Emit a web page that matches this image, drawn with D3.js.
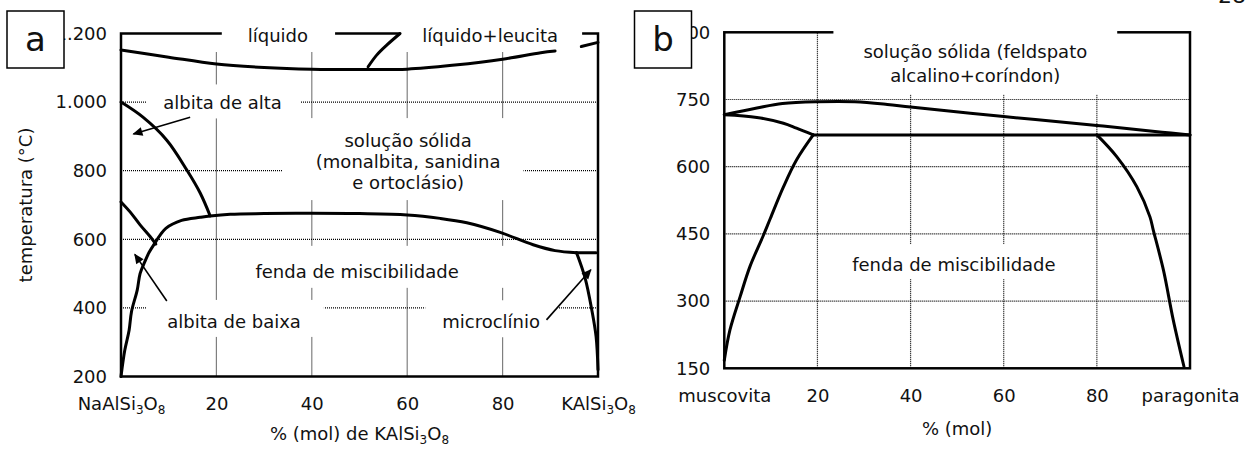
<!DOCTYPE html>
<html>
<head>
<meta charset="utf-8">
<script src="https://cdn.jsdelivr.net/npm/d3@7"></script>
<style>
  body { margin: 0; background: #fff; }
  svg { display: block; font-family: "DejaVu Sans", Verdana, sans-serif; }
</style>
</head>
<body>
<svg id="chart" width="1247" height="449"></svg>
<script>
// ---------- panel a : NaAlSi3O8 - KAlSi3O8 ----------
const xTicksA = [0, 20, 40, 60, 80, 100];
const xTickLabelsA = ["NaAlSi_3O_8", "20", "40", "60", "80", "KAlSi_3O_8"];
const yTicksA = [200, 400, 600, 800, 1000, 1200];
const yTickLabelsA = ["200", "400", "600", "800", "1.000", "1.200"];
const xGridA = [20, 40, 60, 80];
const yGridA = [400, 600, 800, 1000];

// curves as [% mol KAlSi3O8, temperature °C]
const liquidusA = [[0, 1152], [10, 1131], [20, 1111], [30, 1101], [40, 1096], [50, 1095],
  [60, 1096], [70, 1108], [80, 1125], [88, 1144], [91, 1149]];
const liquidusEndA = [[96.5, 1162], [100, 1174]];
const leuciteA = [[58.5, 1200], [55.7, 1166], [53.6, 1137], [51.8, 1103]];
const highAlbiteA = [[0, 1000], [4.6, 956], [9.6, 889], [13.8, 802], [16.6, 735], [18.7, 668]];
const lowAlbiteTopA = [[0, 709], [1.9, 680], [4, 642], [6.1, 608], [7.3, 586]];
const solvusA = [[0, 200], [0.8, 277], [1.7, 335], [2.2, 389], [3.4, 452], [4, 500], [5, 535],
  [5.9, 562], [7.1, 589], [8.2, 612], [9.4, 632], [12.7, 655], [16.6, 664], [18.7, 668],
  [22.9, 673], [30, 675], [40, 676], [50, 675], [60, 671], [66.9, 661], [72.5, 648],
  [79.5, 620], [86.4, 584], [91, 567], [95.5, 561]];
const microShelfA = [[95.5, 561], [99.6, 561]];
const microclineA = [[95.5, 561], [97.3, 487], [98.7, 394], [99.6, 316], [100, 220]];

const labelsA = [
  { lines: ["líquido"], x: 32.9, t: 1193 },
  { lines: ["líquido+leucita"], x: 77.4, t: 1193 },
  { lines: ["albita de alta"], x: 21.3, t: 997 },
  { lines: ["solução sólida", "(monalbita, sanidina", "e ortoclásio)"], x: 60.2, t: 826 },
  { lines: ["fenda de miscibilidade"], x: 49.5, t: 506 },
  { lines: ["albita de baixa"], x: 23.7, t: 360 },
  { lines: ["microclínio"], x: 77.6, t: 359 }
];
const arrowsA = [
  { from: [14.5, 956], to: [2.6, 907] },
  { from: [9.6, 420], to: [2.9, 556] },
  { from: [89.2, 365], to: [98.5, 511] }
];

// ---------- panel b : muscovita - paragonita ----------
const xTicksB = [0, 20, 40, 60, 80, 100];
const xTickLabelsB = ["muscovita", "20", "40", "60", "80", "paragonita"];
const yTicksB = [150, 300, 450, 600, 750, 900];
const yTickLabelsB = ["150", "300", "450", "600", "750", "900"];
const xGridB = [20, 40, 60, 80];
const yGridB = [300, 450, 600, 750];

const upperB = [[0, 716], [7, 731], [12.5, 741], [20, 745], [28, 745], [35, 739], [40, 733],
  [60, 712], [80, 692], [94, 677], [100, 671]];
const lowerB = [[0, 716], [7, 710], [12.7, 697], [15.5, 686], [19.1, 671]];
const shelfB = [[19.1, 671], [100, 671]];
const leftB = [[0, 168], [1.2, 235], [3.4, 310], [5.5, 377], [8.4, 447], [9.9, 485],
  [12.7, 555], [15.5, 615], [19.1, 671]];
const rightB = [[80, 671], [84.3, 622], [88.6, 555], [91.4, 488], [92.1, 459], [94.3, 369],
  [96.4, 258], [98.7, 154]];

const labelsB = [
  { lines: ["solução sólida (feldspato", "alcalino+coríndon)"], x: 53.9, t: 831 },
  { lines: ["fenda de miscibilidade"], x: 49.3, t: 381 }
];

// white boxes behind labels (px padding around text box: left, right, top, bottom)
const padsA = [[26, 27, 6, 5], [22, 24, 6, 4], [17, 19, 8, 5], [33, 23, 12, 7],
  [15, 59, 15, 6], [21, 23, 11, 5], [17, 18, 11, 5]];
const padsB = [[30, 30, 20, 9], [13, 15, 10, 4]];

const svg = d3.select("#chart");

svg.append("defs").append("marker")
  .attr("id", "arrow")
  .attr("viewBox", "0 0 10 10")
  .attr("refX", 9).attr("refY", 5)
  .attr("markerWidth", 12).attr("markerHeight", 10)
  .attr("markerUnits", "userSpaceOnUse")
  .attr("orient", "auto")
  .append("path").attr("d", "M0,0.5L10,5L0,9.5Z").attr("fill", "#000");

// write a formula like NaAlSi_3O_8 with real subscripts
function setChem(text, str) {
  const parts = str.split(/_(\d)/);
  text.text(null);
  let sub = false;
  parts.forEach((s, i) => {
    if (!s) return;
    const ts = text.append("tspan").text(s);
    if (i % 2 === 1) {
      ts.attr("font-size", 12).attr("dy", 4);
      sub = true;
    } else if (sub) {
      ts.attr("dy", -4);
      sub = false;
    }
  });
}

function drawPanel(p) {
  const x = d3.scaleLinear().domain([0, 100]).range(p.xRange);
  const y = d3.scaleLinear().domain(p.yDomain).range(p.yRange);
  const g = svg.append("g");

  const gridG = g.append("g").attr("stroke", "#000").attr("stroke-width", 1.2)
    .attr("stroke-dasharray", "1,1");
  gridG.selectAll("line.v").data(p.xGrid).join("line").attr("class", "v")
    .attr("x1", d => x(d)).attr("x2", d => x(d))
    .attr("y1", y(p.yDomain[0])).attr("y2", y(p.gridTop));
  gridG.selectAll("line.h").data(p.yGrid).join("line").attr("class", "h")
    .attr("x1", x(0)).attr("x2", x(100))
    .attr("y1", d => y(d)).attr("y2", d => y(d));

  g.append("rect")
    .attr("x", x(0)).attr("y", y(p.yDomain[1]))
    .attr("width", x(100) - x(0)).attr("height", y(p.yDomain[0]) - y(p.yDomain[1]))
    .attr("fill", "none").attr("stroke", "#000").attr("stroke-width", 2.5);

  const maskG = g.append("g");
  const curveG = g.append("g");
  const labelG = g.append("g");

  p.labels.forEach((L, i) => {
    const t = labelG.append("text")
      .attr("text-anchor", "middle")
      .attr("font-size", 18)
      .attr("fill", "#111");
    const n = L.lines.length;
    L.lines.forEach((s, j) => {
      t.append("tspan")
        .attr("x", x(L.x))
        .attr("y", y(L.t) + (j - (n - 1) / 2) * p.lineGap)
        .attr("dy", "0.35em")
        .text(s);
    });
    const bb = t.node().getBBox();
    const pad = p.pads[i];
    maskG.append("rect")
      .attr("x", bb.x - pad[0]).attr("y", bb.y - pad[2])
      .attr("width", bb.width + pad[0] + pad[1])
      .attr("height", bb.height + pad[2] + pad[3])
      .attr("fill", "#fff");
  });

  const line = d3.line()
    .x(d => x(d[0])).y(d => y(d[1]))
    .curve(d3.curveCatmullRom.alpha(0.5));

  curveG.selectAll("path").data(p.curves).join("path")
    .attr("d", line)
    .attr("fill", "none")
    .attr("stroke", "#000")
    .attr("stroke-width", 3)
    .attr("stroke-linejoin", "round")
    .attr("stroke-linecap", "round");

  curveG.selectAll("line.arrow").data(p.arrows).join("line").attr("class", "arrow")
    .attr("x1", d => x(d.from[0])).attr("y1", d => y(d.from[1]))
    .attr("x2", d => x(d.to[0])).attr("y2", d => y(d.to[1]))
    .attr("stroke", "#000").attr("stroke-width", 1.6)
    .attr("marker-end", "url(#arrow)");

  const ya = g.append("g")
    .attr("transform", `translate(${x(0)},0)`)
    .call(d3.axisLeft(y).tickValues(p.yTicks)
      .tickFormat((d, i) => p.yTickLabels[i]).tickSize(0).tickPadding(14));
  ya.select(".domain").remove();
  ya.attr("font-size", 18).attr("font-family", null);
  ya.selectAll("text").attr("fill", "#111");

  const xa = g.append("g")
    .attr("transform", `translate(0,${y(p.yDomain[0])})`)
    .call(d3.axisBottom(x).tickValues(p.xTicks).tickSize(0).tickPadding(21));
  xa.select(".domain").remove();
  xa.attr("font-size", 18).attr("font-family", null);
  xa.selectAll("text").attr("fill", "#111")
    .each(function (d, i) { setChem(d3.select(this), p.xTickLabels[i]); });

  const title = g.append("text")
    .attr("x", (x(0) + x(100)) / 2).attr("y", p.titleY)
    .attr("dy", "0.35em")
    .attr("text-anchor", "middle")
    .attr("font-size", 18)
    .attr("fill", "#111");
  setChem(title, p.xTitle);

  if (p.yTitle) {
    g.append("text")
      .attr("transform", `translate(26,${(y(p.yDomain[0]) + y(p.yDomain[1])) / 2}) rotate(-90)`)
      .attr("dy", "0.35em")
      .attr("text-anchor", "middle")
      .attr("font-size", 18)
      .attr("fill", "#111")
      .text(p.yTitle);
  }
}

drawPanel({
  xRange: [121, 598], yDomain: [200, 1200], yRange: [376.5, 33.5], gridTop: 1146,
  xTicks: xTicksA, xTickLabels: xTickLabelsA, yTicks: yTicksA, yTickLabels: yTickLabelsA,
  xGrid: xGridA, yGrid: yGridA,
  curves: [liquidusA, liquidusEndA, leuciteA, highAlbiteA, lowAlbiteTopA, solvusA, microShelfA, microclineA],
  labels: labelsA, pads: padsA, lineGap: 21, arrows: arrowsA,
  xTitle: "% (mol) de KAlSi_3O_8", titleY: 434, yTitle: "temperatura (°C)"
});

drawPanel({
  xRange: [724.3, 1190], yDomain: [150, 900], yRange: [368.3, 32.3], gridTop: 900,
  xTicks: xTicksB, xTickLabels: xTickLabelsB, yTicks: yTicksB, yTickLabels: yTickLabelsB,
  xGrid: xGridB, yGrid: yGridB,
  curves: [upperB, lowerB, shelfB, leftB, rightB],
  labels: labelsB, pads: padsB, lineGap: 24, arrows: [],
  xTitle: "% (mol)", titleY: 429, yTitle: null
});

// panel letters
const panelTags = [
  { tag: "a", x: 7, y: 11 },
  { tag: "b", x: 634.5, y: 11 }
];
const tags = svg.append("g").selectAll("g").data(panelTags).join("g")
  .attr("transform", d => `translate(${d.x},${d.y})`);
tags.append("rect").attr("width", 57).attr("height", 57)
  .attr("fill", "#fff").attr("stroke", "#000").attr("stroke-width", 1.5);
tags.append("text").attr("x", 28.5).attr("y", 28.5).attr("dy", "0.35em")
  .attr("text-anchor", "middle").attr("font-size", 34).attr("fill", "#111")
  .text(d => d.tag);

// page number cut at the top edge, as in the source page
svg.append("text").attr("x", 1232).attr("y", 3).attr("text-anchor", "middle")
  .attr("font-size", 22).attr("fill", "#111").text("28");
</script>
</body>
</html>
